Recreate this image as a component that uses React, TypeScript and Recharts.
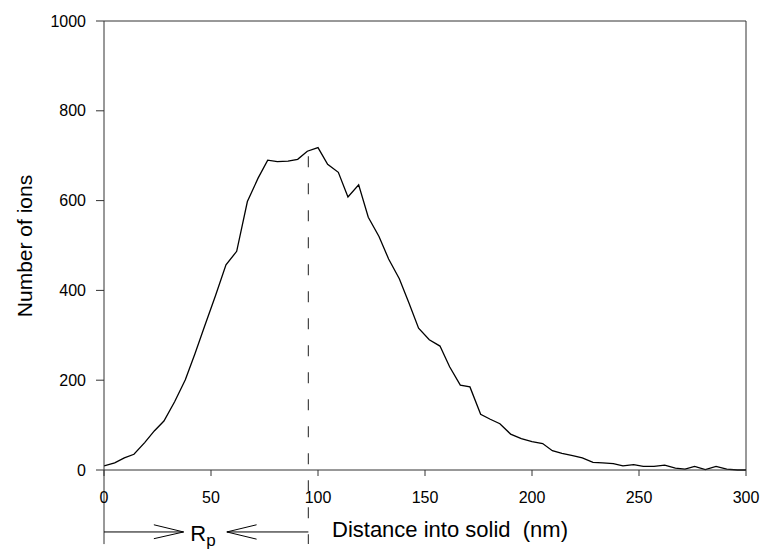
import React from 'react';
import { LineChart, Line, XAxis, YAxis, ReferenceLine, ReferenceDot } from 'recharts';

const depthNm = [0, 5, 9.5, 14, 19, 23.5, 28, 33, 38, 42.5, 47, 52, 57, 62, 67, 72, 76.5, 81, 86, 90.5, 95, 100, 104.5, 109.5, 114, 119, 123.5, 128.5, 133, 138, 142.5, 147, 152, 157, 161.5, 166.5, 171, 176, 180.5, 185, 190, 195, 200, 205, 209.5, 214, 219, 223.5, 228.5, 233, 238, 242.5, 247.5, 252, 257, 262, 267, 271.5, 276, 281, 286, 291, 296, 300];
const ionCount = [9, 16, 27, 35, 61, 87, 109, 152, 201, 259, 320, 387, 457, 487, 598, 650, 690, 687, 688, 692, 710, 718, 681, 663, 608, 635, 563, 520, 470, 426, 372, 316, 290, 276, 230, 189, 185, 124, 113, 103, 80, 70, 63, 59, 43, 37, 32, 27, 17, 16, 14, 9, 12, 8, 8, 11, 4, 2, 8, 1, 8, 2, 0, 0];

const xTicks = [0, 50, 100, 150, 200, 250, 300];
const yTicks = [0, 200, 400, 600, 800, 1000];

const rpValue = 95.5;
const rpPeakY = 699;
const annotY = -138;
const annotBottom = -165;

const data = depthNm.map((d, i) => ({ d, n: ionCount[i] }));

const FONT = '"Liberation Sans", Arial, Helvetica, sans-serif';
const AX = '#333';

export default function App() {
  return (
    <div style={{ position: 'absolute', left: 0, top: 0, background: '#fff' }}>
      <LineChart width={762} height={549} data={data} margin={{ top: 21, right: 16, bottom: 0, left: 0 }}>
        <XAxis
          dataKey="d"
          type="number"
          domain={[0, 300]}
          ticks={xTicks}
          allowDataOverflow
          height={79}
          stroke={AX}
          tickSize={6}
          tickMargin={16}
          tick={{ fill: '#000', fontSize: 16, fontFamily: FONT }}
          label={{
            content: () => (
              <text x={332} y={536.5} fontSize={22} fontFamily={FONT} fill="#000" style={{ whiteSpace: 'pre' }}>
                {'Distance into solid  (nm)'}
              </text>
            ),
          }}
        />
        <YAxis
          type="number"
          domain={[0, 1000]}
          ticks={yTicks}
          width={104}
          stroke={AX}
          tickSize={8}
          tickMargin={10}
          tick={{ fill: '#000', fontSize: 16, fontFamily: FONT }}
          label={{
            content: () => (
              <text x={31.5} y={246} fontSize={21} fontFamily={FONT} fill="#000" textAnchor="middle" transform="rotate(-90, 31.5, 246)">
                Number of ions
              </text>
            ),
          }}
        />
        <ReferenceLine y={1000} stroke={AX} strokeWidth={1} ifOverflow="visible" />
        <ReferenceLine x={300} stroke={AX} strokeWidth={1} ifOverflow="visible" />
        <ReferenceLine
          segment={[{ x: rpValue, y: rpPeakY }, { x: rpValue, y: annotBottom }]}
          stroke="#444"
          strokeWidth={1.2}
          strokeDasharray="11 16"
          ifOverflow="visible"
        />
        <ReferenceLine segment={[{ x: 0, y: 0 }, { x: 0, y: annotBottom }]} stroke={AX} ifOverflow="visible" />
        <ReferenceLine segment={[{ x: 0, y: annotY }, { x: 37.2, y: annotY }]} stroke="#000" ifOverflow="visible" />
        <ReferenceLine segment={[{ x: 23.3, y: -122 }, { x: 37.2, y: annotY }]} stroke="#000" ifOverflow="visible" />
        <ReferenceLine segment={[{ x: 23.3, y: -153 }, { x: 37.2, y: annotY }]} stroke="#000" ifOverflow="visible" />
        <ReferenceLine segment={[{ x: 57.4, y: annotY }, { x: rpValue, y: annotY }]} stroke="#000" ifOverflow="visible" />
        <ReferenceLine segment={[{ x: 71.3, y: -122 }, { x: 57.4, y: annotY }]} stroke="#000" ifOverflow="visible" />
        <ReferenceLine segment={[{ x: 71.3, y: -154 }, { x: 57.4, y: annotY }]} stroke="#000" ifOverflow="visible" />
        <ReferenceDot
          x={40.3}
          y={-158}
          r={0}
          fill="none"
          stroke="none"
          ifOverflow="visible"
          label={{
            content: (props: any) => {
              const vb = props.viewBox || {};
              const x = (vb.x ?? 0) + (vb.width ?? 0) / 2;
              const y = (vb.y ?? 0) + (vb.height ?? 0) / 2;
              return (
                <text x={x} y={y} fontSize={22} fontFamily={FONT} fill="#000">
                  R<tspan fontSize={17} dy={5}>p</tspan>
                </text>
              );
            },
          }}
        />
        <Line
          type="linear"
          dataKey="n"
          stroke="#000"
          strokeWidth={1.3}
          dot={false}
          isAnimationActive={false}
        />
      </LineChart>
    </div>
  );
}
